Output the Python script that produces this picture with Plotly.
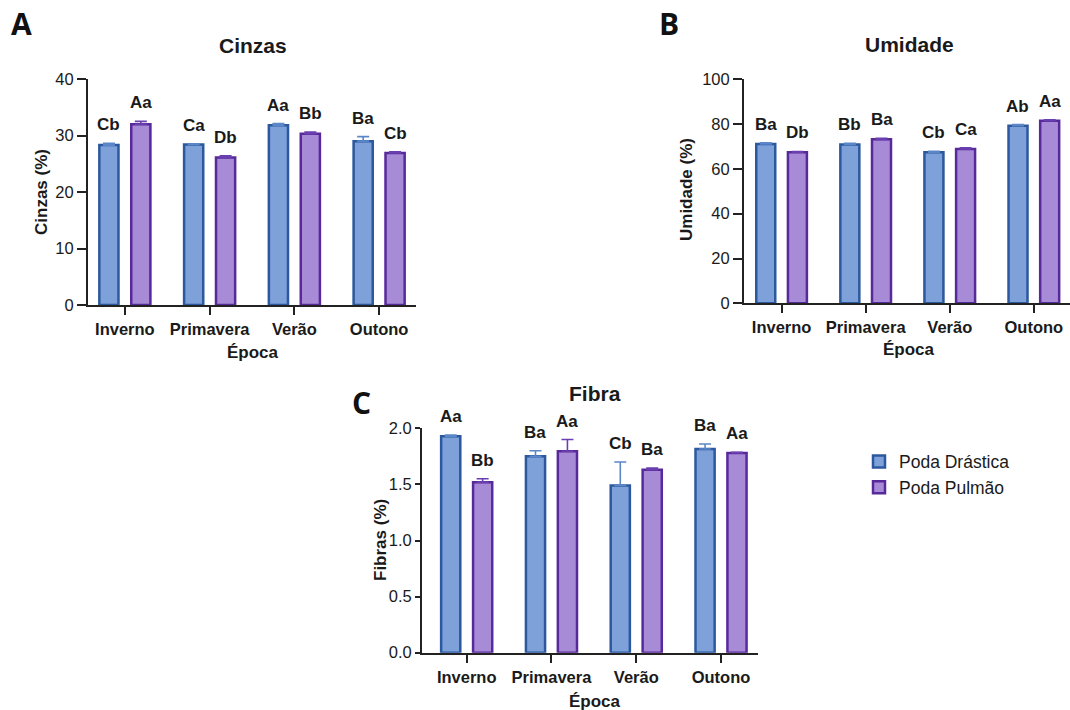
import plotly.graph_objects as go

W, H = 1070, 710

seasons = ["Inverno", "Primavera", "Verão", "Outono"]
series_names = ["Poda Drástica", "Poda Pulmão"]

# Panel A - Cinzas
cinzas_drastica = [28.3, 28.4, 31.8, 29.0]
cinzas_drastica_err = [0.3, 0.1, 0.3, 0.8]
cinzas_pulmao = [32.0, 26.1, 30.3, 26.9]
cinzas_pulmao_err = [0.5, 0.3, 0.3, 0.2]
cinzas_drastica_lbl = ["Cb", "Ca", "Aa", "Ba"]
cinzas_pulmao_lbl = ["Aa", "Db", "Bb", "Cb"]
cinzas_ticks = [0, 10, 20, 30, 40]

# Panel B - Umidade
umidade_drastica = [71.1, 70.9, 67.4, 79.3]
umidade_drastica_err = [0.5, 0.5, 0.5, 0.5]
umidade_pulmao = [67.4, 73.2, 68.9, 81.5]
umidade_pulmao_err = [0.4, 0.5, 0.5, 0.4]
umidade_drastica_lbl = ["Ba", "Bb", "Cb", "Ab"]
umidade_pulmao_lbl = ["Db", "Ba", "Ca", "Aa"]
umidade_ticks = [0, 20, 40, 60, 80, 100]

# Panel C - Fibra
fibra_drastica = [1.93, 1.75, 1.49, 1.815]
fibra_drastica_err = [0.01, 0.05, 0.21, 0.045]
fibra_pulmao = [1.52, 1.795, 1.63, 1.78]
fibra_pulmao_err = [0.03, 0.105, 0.015, 0.005]
fibra_drastica_lbl = ["Aa", "Ba", "Cb", "Ba"]
fibra_pulmao_lbl = ["Bb", "Aa", "Ba", "Aa"]
fibra_ticks = [0.0, 0.5, 1.0, 1.5, 2.0]

FILL = ["#7da1d8", "#a88bd7"]
EDGE = ["#2b589e", "#58299a"]
ERRC = ["#5b87c8", "#6a3fb0"]
FONT = "Liberation Sans, Arial, sans-serif"
INK = "#1a1a1a"

def px_x(p):
    return p / W

def px_y(p):
    return 1 - p / H

panels = [
    dict(ax="", title="Cinzas", ytitle="Cinzas (%)", letter="A",
         data=[(cinzas_drastica, cinzas_drastica_err, cinzas_drastica_lbl),
               (cinzas_pulmao, cinzas_pulmao_err, cinzas_pulmao_lbl)],
         ticks=cinzas_ticks, yr=[0, 40], fmt="d", yticklen=9,
         xdom=(88, 416), ydom=(79, 305), xr=[-0.435, 3.435],
         title_xy=(253, 45), xt_xy=(253, 352), yt_xy=(42, 192), let_xy=(21, 24)),
    dict(ax="2", title="Umidade", ytitle="Umidade (%)", letter="B",
         data=[(umidade_drastica, umidade_drastica_err, umidade_drastica_lbl),
               (umidade_pulmao, umidade_pulmao_err, umidade_pulmao_lbl)],
         ticks=umidade_ticks, yr=[0, 100], fmt="d", yticklen=9,
         xdom=(744, 1070), ydom=(79.3, 303.3), xr=[-0.447, 3.43],
         title_xy=(909, 44), xt_xy=(909, 349), yt_xy=(687, 190), let_xy=(669, 24)),
    dict(ax="3", title="Fibra", ytitle="Fibras (%)", letter="C",
         data=[(fibra_drastica, fibra_drastica_err, fibra_drastica_lbl),
               (fibra_pulmao, fibra_pulmao_err, fibra_pulmao_lbl)],
         ticks=fibra_ticks, yr=[0, 2.0], fmt=".1f", yticklen=5,
         xdom=(422, 758), ydom=(428.3, 652.7), xr=[-0.527, 3.436],
         title_xy=(595, 393), xt_xy=(595, 701), yt_xy=(380, 540), let_xy=(361, 402)),
]

fig = go.Figure()
annotations = []
OFFSET_PX = 16

for p in panels:
    xa, ya = "x" + p["ax"], "y" + p["ax"]
    for si, (vals, errs, lbls) in enumerate(p["data"]):
        fig.add_trace(go.Bar(
            x=seasons, y=vals, name=series_names[si],
            xaxis=xa, yaxis=ya,
            marker=dict(color=FILL[si], line=dict(color=EDGE[si], width=2.5)),
            error_y=dict(type="data", symmetric=False, array=errs,
                         arrayminus=[0] * len(errs), color=ERRC[si],
                         thickness=1.6, width=6),
            showlegend=(p["ax"] == "3"),
        ))
        for s, v, e, t in zip(seasons, vals, errs, lbls):
            annotations.append(dict(
                x=s, y=v + e, xref=xa, yref=ya, text="<b>%s</b>" % t,
                showarrow=False, yanchor="bottom", xanchor="center",
                xshift=(-OFFSET_PX if si == 0 else OFFSET_PX), yshift=7,
                font=dict(family=FONT, size=17, color=INK)))
    annotations.append(dict(x=px_x(p["title_xy"][0]), y=px_y(p["title_xy"][1]),
                            xref="paper", yref="paper", text="<b>%s</b>" % p["title"],
                            showarrow=False, xanchor="center", yanchor="middle",
                            font=dict(family=FONT, size=21, color=INK)))
    annotations.append(dict(x=px_x(p["xt_xy"][0]), y=px_y(p["xt_xy"][1]),
                            xref="paper", yref="paper", text="<b>Época</b>",
                            showarrow=False, xanchor="center", yanchor="middle",
                            font=dict(family=FONT, size=17, color=INK)))
    annotations.append(dict(x=px_x(p["yt_xy"][0]), y=px_y(p["yt_xy"][1]),
                            xref="paper", yref="paper", text="<b>%s</b>" % p["ytitle"],
                            showarrow=False, xanchor="center", yanchor="middle",
                            textangle=-90,
                            font=dict(family=FONT, size=17, color=INK)))
    annotations.append(dict(x=px_x(p["let_xy"][0]), y=px_y(p["let_xy"][1]),
                            xref="paper", yref="paper", text="<b>%s</b>" % p["letter"],
                            showarrow=False, xanchor="center", yanchor="middle",
                            font=dict(family="Open Sans, sans-serif", size=30, color="#111")))

    axis_common = dict(showline=True, linecolor="#222", linewidth=2, ticks="outside",
                       tickcolor="#222", tickwidth=2, showgrid=False, zeroline=False,
                       automargin=False,
                       tickfont=dict(family=FONT, size=16.5, color=INK))
    fig.layout["xaxis" + p["ax"]] = dict(
        domain=[px_x(p["xdom"][0]), px_x(p["xdom"][1])],
        anchor=ya, range=p["xr"], type="category", ticklen=8,
        tickprefix="<b>", ticksuffix="</b>", **axis_common)
    fig.layout["yaxis" + p["ax"]] = dict(
        domain=[px_y(p["ydom"][1]), px_y(p["ydom"][0])],
        anchor=xa, range=p["yr"], tickvals=p["ticks"], tickformat=p["fmt"],
        ticklen=p["yticklen"], tickprefix="<b>", ticksuffix="</b>", **axis_common)

fig.update_layout(
    width=W, height=H,
    margin=dict(l=0, r=0, t=0, b=0, pad=0, autoexpand=False),
    paper_bgcolor="white", plot_bgcolor="white",
    barmode="group", bargap=0.247, bargroupgap=0.40,
    annotations=annotations,
    showlegend=True,
    legend=dict(x=px_x(859), y=px_y(443.5), xanchor="left", yanchor="top",
                font=dict(family=FONT, size=17.5, color=INK),
                bgcolor="rgba(0,0,0,0)", tracegroupgap=0),
)

fig.write_html(
    "out.html",
    config={"displayModeBar": False},
    post_script="document.body.style.margin='0';document.body.style.overflow='hidden';",
)
